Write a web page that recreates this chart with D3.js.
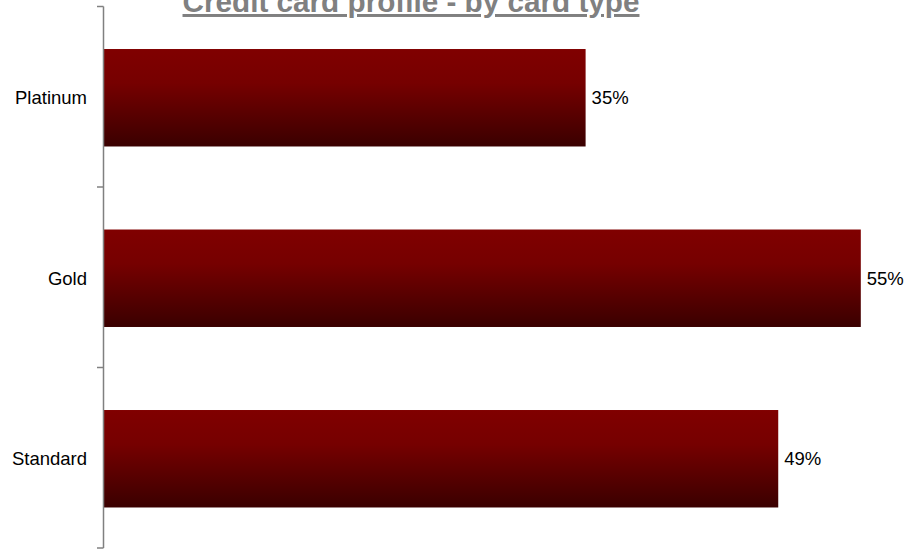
<!DOCTYPE html>
<html>
<head>
<meta charset="utf-8">
<script src="https://cdn.jsdelivr.net/npm/d3@7"></script>
<style>
  html, body { margin: 0; padding: 0; background: #fff; }
  svg { display: block; }
</style>
</head>
<body>
<svg id="chart" width="908" height="549"></svg>
<script>
// Share of card holders by card type
const categories = ["Platinum", "Gold", "Standard"];
const values = [0.35, 0.55, 0.49];
const valueLabels = ["35%", "55%", "49%"];
const title = "Credit card profile - by card type";

const svg = d3.select("#chart");
const font = "Arial, 'Liberation Sans', sans-serif";

const plotLeft = 104, plotTop = 6.5, plotBottom = 548;

const x = d3.scaleLinear().domain([0, 0.6]).range([plotLeft, plotLeft + 0.6 * 1376]);

// Category slots (for tick marks) and bars inside them
const slots = d3.scaleBand().domain(categories).range([plotTop, plotBottom]).padding(0);
const y = d3.scaleBand().domain(categories).range([plotTop, plotBottom])
  .paddingInner(0.46).paddingOuter(0.23);

// Vertical red gradient for the bars
const defs = svg.append("defs");
const grad = defs.append("linearGradient")
  .attr("id", "barGrad").attr("x1", 0).attr("y1", 0).attr("x2", 0).attr("y2", 1);
grad.append("stop").attr("offset", "0%").attr("stop-color", "#800000");
grad.append("stop").attr("offset", "35%").attr("stop-color", "#760000");
grad.append("stop").attr("offset", "100%").attr("stop-color", "#3a0000");

// Bars
svg.append("g").selectAll("rect")
  .data(categories)
  .join("rect")
  .attr("x", x(0))
  .attr("y", d => y(d) + 1)
  .attr("width", (d, i) => x(values[i]) - x(0))
  .attr("height", y.bandwidth())
  .attr("fill", "url(#barGrad)");

// Value labels
svg.append("g").selectAll("text")
  .data(categories)
  .join("text")
  .attr("x", (d, i) => x(values[i]) + 6)
  .attr("y", d => y(d) + 1 + y.bandwidth() / 2)
  .attr("dy", "0.35em")
  .attr("font-family", font)
  .attr("font-size", "18.5px")
  .attr("fill", "#000")
  .text((d, i) => valueLabels[i]);

// Category axis: line, ticks at slot boundaries, labels
const axis = svg.append("g");
axis.append("line")
  .attr("x1", plotLeft - 0.5).attr("x2", plotLeft - 0.5)
  .attr("y1", plotTop).attr("y2", plotBottom)
  .attr("stroke", "#808080").attr("stroke-width", 1.5);

const tickYs = categories.map(c => slots(c)).concat([plotBottom]);
axis.selectAll("line.tick")
  .data(tickYs)
  .join("line")
  .attr("class", "tick")
  .attr("x1", plotLeft - 7).attr("x2", plotLeft - 0.5)
  .attr("y1", d => d).attr("y2", d => d)
  .attr("stroke", "#808080").attr("stroke-width", 1.5);

axis.selectAll("text")
  .data(categories)
  .join("text")
  .attr("x", plotLeft - 17)
  .attr("y", d => slots(d) + slots.bandwidth() / 2 + 1)
  .attr("dy", "0.35em")
  .attr("text-anchor", "end")
  .attr("font-family", font)
  .attr("font-size", "18.5px")
  .attr("fill", "#000")
  .text(d => d);

// Title, sitting against the top edge
svg.append("text")
  .attr("x", 411)
  .attr("y", 12)
  .attr("text-anchor", "middle")
  .attr("font-family", font)
  .attr("font-weight", "bold")
  .attr("font-size", "29.7px")
  .attr("fill", "#808080")
  .attr("text-decoration", "underline")
  .text(title);
</script>
</body>
</html>
